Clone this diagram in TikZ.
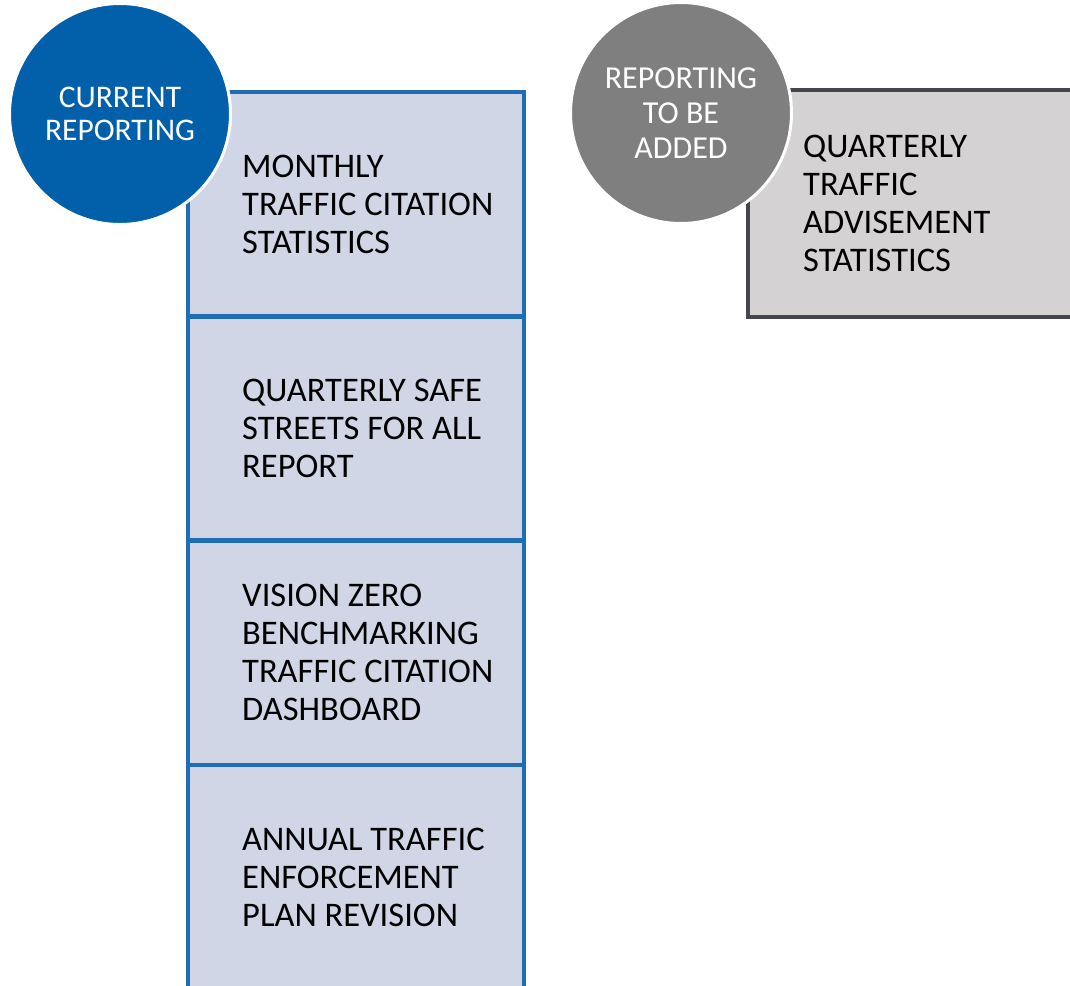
\documentclass[tikz,border=0pt]{standalone}
\usepackage{fontspec}
\setmainfont{Carlito}
\usepackage{xcolor}
\usepackage{tikz}
\usetikzlibrary{positioning}

\definecolor{circblue}{HTML}{0160A9}
\definecolor{lineblue}{HTML}{1E6DB5}
\definecolor{listfill}{HTML}{D0D6E5}
\definecolor{circgray}{HTML}{7F7F7F}
\definecolor{addfill}{HTML}{D5D2D4}
\definecolor{addline}{HTML}{45454D}

\tikzset{
  listbox/.style={draw=lineblue, fill=listfill, line width=4.5pt, outer sep=0pt,
    inner sep=0pt, minimum width=336pt, minimum height=224.3pt},
  addbox/.style={draw=addline, fill=addfill, line width=4pt, outer sep=0pt,
    inner sep=0pt, minimum width=360pt, minimum height=227pt},
  itemtext/.style={inner sep=0pt, align=left, anchor=west,
    font=\fontsize{34.5}{38}\selectfont},
  headcircle/.style={circle, draw=white, line width=3pt, minimum size=221pt,
    inner sep=0pt, align=center, text=white}
}

\begin{document}
\begin{tikzpicture}[x=1pt,y=-1pt]
    \useasboundingbox (0,0) rectangle (1070,985);
    \clip (0,0) rectangle (1070,985);

    % current reporting column
    \node[listbox, anchor=north west] (monthly) at (188,92) {};
    \node[listbox, below=0pt of monthly] (safe) {};
    \node[listbox, below=0pt of safe] (vision) {};
    \node[listbox, below=0pt of vision] (annual) {};

    \node[itemtext, right=54pt of monthly.west] (monthlytxt) {MONTHLY\\TRAFFIC CITATION\\STATISTICS};
    \node[itemtext, right=54pt of safe.west] (safetxt) {QUARTERLY SAFE\\STREETS FOR ALL\\REPORT};
    \node[itemtext, right=54pt of vision.west] (visiontxt) {VISION ZERO\\BENCHMARKING\\TRAFFIC CITATION\\DASHBOARD};
    \node[itemtext, right=54pt of annual.west] (annualtxt) {ANNUAL TRAFFIC\\ENFORCEMENT\\PLAN REVISION};

    % reporting to be added
    \node[addbox, anchor=north west] (advise) at (748,90) {};
    \node[itemtext, right=55pt of advise.west] (advisetxt) {QUARTERLY\\TRAFFIC\\ADVISEMENT\\STATISTICS};

    % headings
    \node[headcircle, fill=circblue, font=\fontsize{31.5}{33.5}\selectfont] (current) at (120,114) {CURRENT\\REPORTING};
    \node[headcircle, fill=circgray, font=\fontsize{32}{35}\selectfont] (added) at (681,113) {REPORTING\\TO BE\\ADDED};
\end{tikzpicture}
\end{document}
